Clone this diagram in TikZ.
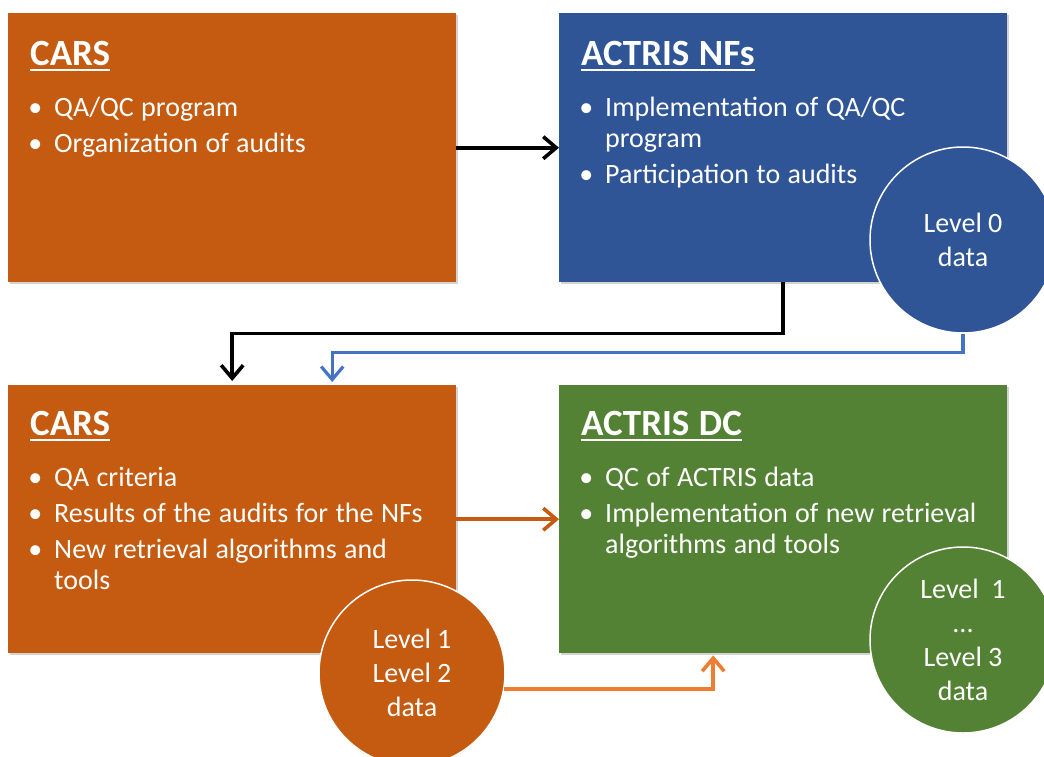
\documentclass[tikz,border=0pt]{standalone}
\usepackage{fontspec}
\setmainfont{Carlito}
\usepackage{enumitem}
\usetikzlibrary{arrows.meta,shadows}

\definecolor{carsorange}{HTML}{C55A11}
\definecolor{nfblue}{HTML}{2F5597}
\definecolor{dcgreen}{HTML}{548235}
\definecolor{linkblue}{HTML}{4472C4}
\definecolor{linkorange}{HTML}{ED7D31}

\newcommand{\boxtitle}[1]{{\fontsize{37}{44}\selectfont\bfseries\spaceskip=9.5pt\setbox0\hbox{#1}\rlap{\rule[-6pt]{\wd0}{2.6pt}}\box0}\par}
\newenvironment{boxitems}{\fontsize{28}{31}\selectfont\spaceskip=7.4pt plus 3pt minus 1pt\begin{itemize}[label=\textbullet, leftmargin=24pt, labelsep=12pt, topsep=20pt, partopsep=0pt, itemsep=5pt, parsep=0pt]}{\end{itemize}}

\begin{document}
\begin{tikzpicture}[x=1pt, y=-1pt]
		\tikzstyle{panel}=[draw=none, anchor=north west, minimum width=448pt, minimum height=269pt, drop shadow={shadow xshift=2pt, shadow yshift=-2pt, opacity=.35}]
		\tikzstyle{paneltext}=[inner sep=0pt, anchor=north west, text width=420pt, align=left, text=white]
		\tikzstyle{dataring}=[circle, draw=white, line width=1.5pt, minimum size=186pt, inner sep=0pt, text=white, align=center, font=\fontsize{28}{34}\selectfont]
		\tikzstyle{link}=[line width=3.6pt, -{Straight Barb[length=13pt, width=22pt]}]
			\useasboundingbox (0,0) rectangle (1044,756);

			\node[panel, fill=carsorange] (carsTop) at (8,13) {};
			\node[panel, fill=nfblue] (nfs) at (559,13) {};
			\node[panel, fill=carsorange, minimum height=268pt] (carsBot) at (8,385) {};
			\node[panel, fill=dcgreen, minimum height=268pt] (dc) at (559,385) {};

			\node[paneltext] (carsTopTxt) at ([shift={(22pt,-28pt)}]carsTop.north west) {\boxtitle{CARS}
				\begin{boxitems}\item QA/QC program \item Organization of audits\end{boxitems}};
			\node[paneltext] (nfsTxt) at ([shift={(22pt,-28pt)}]nfs.north west) {\boxtitle{ACTRIS NFs}
				\begin{boxitems}\item Implementation of QA/QC\\ program \item Participation to audits\end{boxitems}};
			\node[paneltext] (carsBotTxt) at ([shift={(22pt,-26pt)}]carsBot.north west) {\boxtitle{CARS}
				\begin{boxitems}\item QA criteria \item Results of the audits for the NFs \item New retrieval algorithms and\\ tools\end{boxitems}};
			\node[paneltext] (dcTxt) at ([shift={(22pt,-26pt)}]dc.north west) {\boxtitle{ACTRIS DC}
				\begin{boxitems}\item QC of ACTRIS data \item Implementation of new retrieval\\ algorithms and tools\end{boxitems}};

			\node[dataring, fill=nfblue] (lvlZero) at (963,240) {Level 0\\data};
			\node[dataring, fill=carsorange] (lvlTwo) at (412,673) {Level 1\\Level 2\\data};
			\node[dataring, fill=dcgreen] (lvlThree) at (963,640) {Level~~1\\...\\Level 3\\data};

			\draw[link, black] (carsTop) -- (nfs);
			\draw[link, black, shorten >=4pt] (nfs.south) -- ++(0,51) -| (carsBot.north);
			\draw[link, linkblue, line width=3.2pt, shorten >=3pt] (lvlZero.south) -- ++(0,19) -| ([xshift=100pt]carsBot.north);
			\draw[link, carsorange] (carsBot) -- (dc);
			\draw[link, linkorange, shorten >=2pt] (lvlTwo.-10) -| ([xshift=-70pt]dc.south);
		\end{tikzpicture}
\end{document}
